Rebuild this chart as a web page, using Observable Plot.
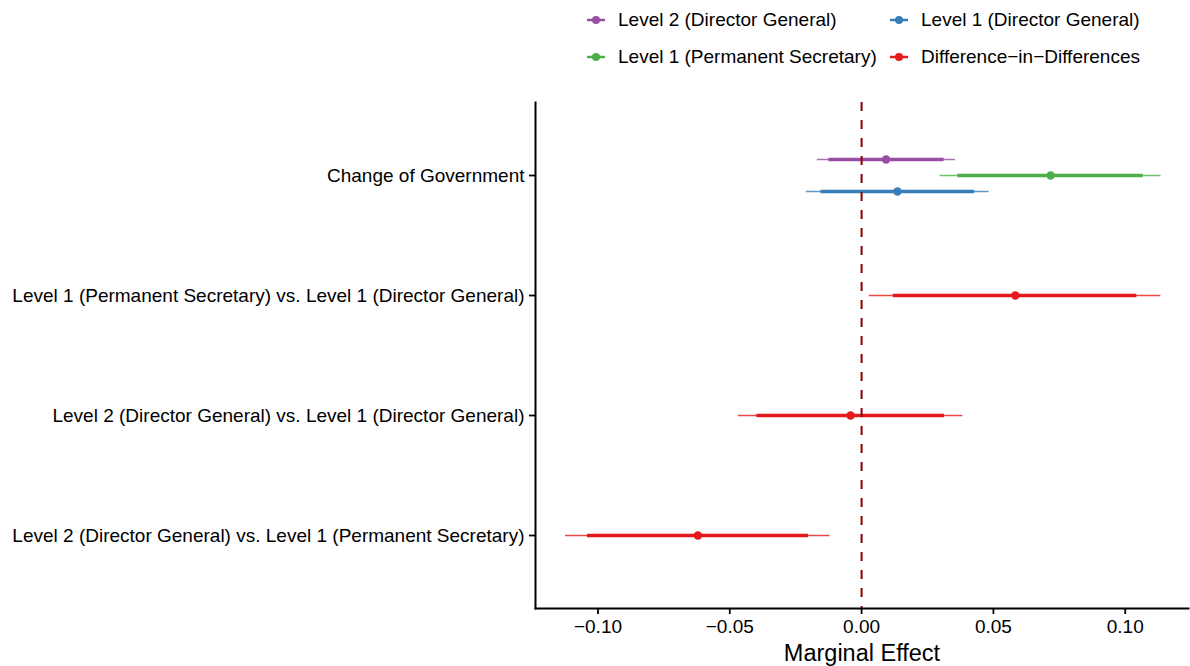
<!DOCTYPE html>
<html><head><meta charset="utf-8">
<script src="https://cdn.jsdelivr.net/npm/d3@7"></script>
<script src="https://cdn.jsdelivr.net/npm/@observablehq/plot@0.6"></script>
<style>
body{margin:0;background:#fff;font-family:"Liberation Sans",Arial,Helvetica,sans-serif;}
#legend{position:relative;width:1190px;height:80px;}
.item{position:absolute;height:24px;display:flex;align-items:center;font-size:19px;color:#000;white-space:nowrap;}
.item svg{margin-right:13px;}
</style></head><body>
<div id="legend"></div><div id="chart"></div>
<script>
// ---- data ----
const rowLabels = [
  "Change of Government",
  "Level 1 (Permanent Secretary) vs. Level 1 (Director General)",
  "Level 2 (Director General) vs. Level 1 (Director General)",
  "Level 2 (Director General) vs. Level 1 (Permanent Secretary)"
];
const seriesNames = ["Level 2 (Director General)", "Level 1 (Permanent Secretary)", "Level 1 (Director General)", "Difference\u2212in\u2212Differences"];
const seriesColors = ["#984EA3", "#4DAF4A", "#377EB8", "#E41A1C"];
const legendOrder = [0, 2, 1, 3];
const rowOf    = [0, 0, 0, 1, 2, 3];
const seriesOf = [0, 1, 2, 3, 3, 3];
const estimate = [0.0093, 0.0717, 0.0136, 0.0583, -0.0042, -0.0621];
const lo95     = [-0.0168, 0.0297, -0.0210, 0.0029, -0.0467, -0.1123];
const hi95     = [0.0356, 0.1136, 0.0484, 0.1135, 0.0384, -0.0120];
const lo90     = [-0.0124, 0.0365, -0.0154, 0.0120, -0.0397, -0.1040];
const hi90     = [0.0313, 0.1068, 0.0429, 0.1044, 0.0315, -0.0201];
const xTicks   = [-0.10, -0.05, 0, 0.05, 0.10];
const xDomain  = [-0.1237, 0.1240];
const zeroLine = [0];

// dodge offsets (style) per series
const seriesDy = [-16, 0, 16, 0];

const data = estimate.map((e, i) => ({
  row: rowLabels[rowOf[i]], series: seriesNames[seriesOf[i]], s: seriesOf[i],
  est: e, lo95: lo95[i], hi95: hi95[i], lo90: lo90[i], hi90: hi90[i]
}));

// ---- legend ----
const legend = document.getElementById("legend");
const legendPos = [[587, 8], [890, 8], [587, 45], [890, 45]];
legendOrder.forEach((si, k) => {
  const d = document.createElement("div");
  d.className = "item";
  d.style.left = legendPos[k][0] + "px";
  d.style.top = legendPos[k][1] + "px";
  const c = seriesColors[si];
  d.innerHTML = `<svg width="18" height="10"><line x1="0" x2="18" y1="5" y2="5" stroke="${c}" stroke-width="2.5"/><circle cx="9" cy="5" r="4" fill="${c}"/></svg><span>${seriesNames[si]}</span>`;
  legend.appendChild(d);
});

// ---- chart ----
const marks = [];
seriesNames.forEach((name, si) => {
  const sub = data.filter(d => d.s === si);
  marks.push(Plot.ruleY(sub, {y: "row", x1: "lo95", x2: "hi95", stroke: "series", strokeWidth: 1.4, strokeOpacity: 0.8, dy: seriesDy[si]}));
  marks.push(Plot.ruleY(sub, {y: "row", x1: "lo90", x2: "hi90", stroke: "series", strokeWidth: 3.3, dy: seriesDy[si]}));
});
marks.push(Plot.ruleX(zeroLine, {stroke: "#8B0000", strokeWidth: 2, strokeDasharray: "9,9"}));
seriesNames.forEach((name, si) => {
  const sub = data.filter(d => d.s === si);
  marks.push(Plot.dot(sub, {x: "est", y: "row", fill: "series", r: 4.2, dy: seriesDy[si]}));
});

const chart = Plot.plot({
  width: 1190,
  height: 586,
  marginTop: 22,
  marginBottom: 58,
  marginLeft: 535,
  marginRight: 2,
  style: {fontFamily: '"Liberation Sans", Arial, Helvetica, sans-serif', fontSize: "19px", color: "#000", background: "#fff"},
  x: {domain: xDomain, label: null},
  y: {type: "point", domain: rowLabels, padding: 0.6, label: null},
  color: {domain: seriesNames, range: seriesColors, legend: false},
  marks: [
    ...marks,
    Plot.axisX({ticks: xTicks, tickFormat: d3.format(".2f"), tickSize: 6, tickPadding: 5, strokeWidth: 1.8, fontSize: 19, label: null}),
    Plot.axisY({tickSize: 6, tickPadding: 5, strokeWidth: 1.8, fontSize: 19, label: null}),
    Plot.frame({anchor: "left", strokeWidth: 2, stroke: "#000"}),
    Plot.frame({anchor: "bottom", strokeWidth: 2, stroke: "#000"}),
    Plot.text(["Marginal Effect"], {frameAnchor: "bottom", dy: 52, fontSize: 23.5, fill: "#000"})
  ]
});
document.getElementById("chart").appendChild(chart);
</script>
</body></html>
